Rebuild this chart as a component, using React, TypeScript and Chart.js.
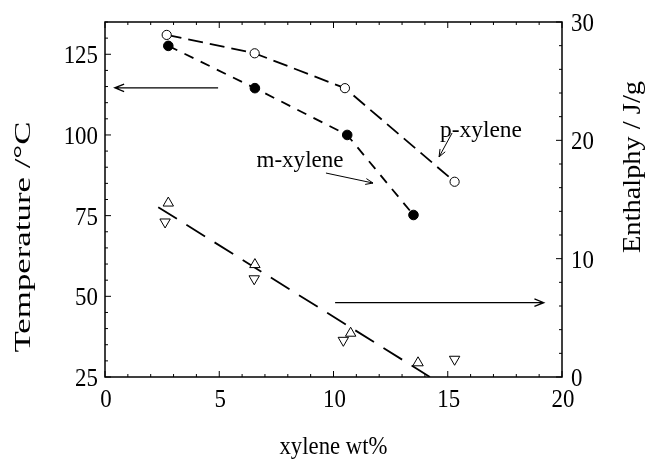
import React, { useEffect, useRef } from "react";
import { Chart, registerables } from "chart.js";
Chart.register(...registerables);

// ---- data ----
const pXyleneWt = [2.7, 6.55, 10.5, 15.3];
const pXyleneTemp = [131, 125.3, 114.5, 85.5];
const mXyleneWt = [2.77, 6.56, 10.6, 13.5];
const mXyleneTemp = [127.6, 114.5, 100, 75.2];
const enthalpyUpWt = [2.77, 6.56, 10.75, 13.7];
const enthalpyUp = [14.7, 9.5, 3.7, 1.2];
const enthalpyDownWt = [2.63, 6.53, 10.43, 15.3];
const enthalpyDown = [13.1, 8.3, 3.1, 1.5];
const fitWt = [2.33, 14.22];
const fitEnthalpy = [14.35, 0];

const xTicks = [0, 5, 10, 15, 20];
const tempTicks = [25, 50, 75, 100, 125];
const enthalpyTicks = [0, 10, 20, 30];

const xTitle = "xylene wt%";
const yTitle = "Temperature /°C";
const y2Title = "Enthalphy / J/g";

const FONT = '"Liberation Serif", "Times New Roman", serif';

function pts(xs: number[], ys: number[]) {
  return xs.map((x, i) => ({ x, y: ys[i] }));
}

function txt(
  ctx: CanvasRenderingContext2D,
  s: string,
  x: number,
  y: number,
  o: { size: number; align: CanvasTextAlign; baseline: CanvasTextBaseline; sx?: number; rot?: number; width?: number }
) {
  ctx.save();
  ctx.font = `${o.size}px ${FONT}`;
  ctx.translate(x, y);
  if (o.rot) ctx.rotate(o.rot);
  let sx = o.sx ?? 1;
  if (o.width) sx = o.width / ctx.measureText(s).width;
  ctx.scale(sx, 1);
  ctx.textAlign = o.align;
  ctx.textBaseline = o.baseline;
  ctx.fillStyle = "#000";
  ctx.fillText(s, 0, 0);
  ctx.restore();
}

function arrow(ctx: CanvasRenderingContext2D, x1: number, y1: number, x2: number, y2: number, head: number, lw: number) {
  ctx.save();
  ctx.strokeStyle = "#000";
  ctx.lineWidth = lw;
  ctx.beginPath();
  ctx.moveTo(x1, y1);
  ctx.lineTo(x2, y2);
  const a = Math.atan2(y2 - y1, x2 - x1);
  const th = 0.38;
  ctx.moveTo(x2 - head * Math.cos(a - th), y2 - head * Math.sin(a - th));
  ctx.lineTo(x2, y2);
  ctx.lineTo(x2 - head * Math.cos(a + th), y2 - head * Math.sin(a + th));
  ctx.stroke();
  ctx.restore();
}

const decor = {
  id: "decor",
  afterDraw(chart: any) {
    const ctx: CanvasRenderingContext2D = chart.ctx;
    const { left, right, top, bottom } = chart.chartArea;
    const xs = chart.scales.x;
    const ys = chart.scales.y;
    const y2s = chart.scales.y2;

    // frame
    ctx.save();
    ctx.strokeStyle = "#000";
    ctx.lineWidth = 1.5;
    ctx.strokeRect(left, top, right - left, bottom - top);

    // inward ticks
    ctx.lineWidth = 1;
    ctx.beginPath();
    for (let v = 0; v <= 20; v += 1) {
      const px = xs.getPixelForValue(v);
      const len = v % 5 === 0 ? 6 : 3;
      ctx.moveTo(px, bottom);
      ctx.lineTo(px, bottom - len);
      ctx.moveTo(px, top);
      ctx.lineTo(px, top + len);
    }
    for (let v = 25; v <= 135; v += 5) {
      const py = ys.getPixelForValue(v);
      const len = v % 25 === 0 ? 6 : 3;
      ctx.moveTo(left, py);
      ctx.lineTo(left + len, py);
    }
    for (let v = 0; v <= 30; v += 2) {
      const py = y2s.getPixelForValue(v);
      const len = v % 10 === 0 ? 6 : 3;
      ctx.moveTo(right, py);
      ctx.lineTo(right - len, py);
    }
    ctx.stroke();
    ctx.restore();

    // tick labels
    xTicks.forEach((v) =>
      txt(ctx, String(v), xs.getPixelForValue(v) + 1, bottom + 30, { size: 26, align: "center", baseline: "alphabetic", sx: 0.88 })
    );
    tempTicks.forEach((v) =>
      txt(ctx, String(v), left - 7, ys.getPixelForValue(v) + 9, { size: 26, align: "right", baseline: "alphabetic", sx: 0.88 })
    );
    enthalpyTicks.forEach((v) =>
      txt(ctx, String(v), right + 9, y2s.getPixelForValue(v) + 9, { size: 26, align: "left", baseline: "alphabetic", sx: 0.88 })
    );

    // axis titles
    txt(ctx, xTitle, (left + right) / 2, bottom + 77, { size: 26, align: "center", baseline: "alphabetic", width: 108 });
    txt(ctx, yTitle, 30, 237, { size: 24, align: "center", baseline: "alphabetic", rot: -Math.PI / 2, width: 231 });
    txt(ctx, y2Title, 640, 167, { size: 25, align: "center", baseline: "alphabetic", rot: -Math.PI / 2, width: 172 });

    // annotations
    txt(ctx, "m-xylene", xs.getPixelForValue(6.63), ys.getPixelForValue(90.1), { size: 24, align: "left", baseline: "alphabetic", width: 87 });
    txt(ctx, "p-xylene", xs.getPixelForValue(14.66), ys.getPixelForValue(99.4), { size: 24, align: "left", baseline: "alphabetic", width: 82 });

    arrow(ctx, xs.getPixelForValue(4.95), ys.getPixelForValue(114.6), xs.getPixelForValue(0.43), ys.getPixelForValue(114.6), 10, 1.3);
    arrow(ctx, xs.getPixelForValue(10.07), y2s.getPixelForValue(6.28), xs.getPixelForValue(19.2), y2s.getPixelForValue(6.28), 10, 1.3);
    arrow(ctx, xs.getPixelForValue(9.67), ys.getPixelForValue(88.2), xs.getPixelForValue(11.73), ys.getPixelForValue(85.1), 8, 1);
    arrow(ctx, xs.getPixelForValue(15.19), ys.getPixelForValue(100.6), xs.getPixelForValue(14.62), ys.getPixelForValue(93.2), 8, 1);
  },
};

export default function App() {
  const ref = useRef<HTMLCanvasElement>(null);
  useEffect(() => {
    if (!ref.current) return;
    const chart = new Chart(ref.current, {
      type: "scatter",
      data: {
        datasets: [
          {
            label: "p-xylene",
            data: pts(pXyleneWt, pXyleneTemp),
            yAxisID: "y",
            showLine: true,
            borderColor: "#000",
            borderWidth: 1.8,
            borderDash: [15, 7],
            pointRadius: 4.6,
            pointBackgroundColor: "#fff",
            pointBorderColor: "#000",
            pointBorderWidth: 1,
          },
          {
            label: "m-xylene",
            data: pts(mXyleneWt, mXyleneTemp),
            yAxisID: "y",
            showLine: true,
            borderColor: "#000",
            borderWidth: 1.8,
            borderDash: [10, 8],
            pointRadius: 4.8,
            pointBackgroundColor: "#000",
            pointBorderColor: "#000",
            pointBorderWidth: 1,
          },
          {
            label: "enthalpy up",
            data: pts(enthalpyUpWt, enthalpyUp),
            yAxisID: "y2",
            showLine: false,
            pointStyle: "triangle",
            pointRadius: 6,
            pointBackgroundColor: "#fff",
            pointBorderColor: "#000",
            pointBorderWidth: 1,
          },
          {
            label: "enthalpy down",
            data: pts(enthalpyDownWt, enthalpyDown),
            yAxisID: "y2",
            showLine: false,
            pointStyle: "triangle",
            rotation: 180,
            pointRadius: 6,
            pointBackgroundColor: "#fff",
            pointBorderColor: "#000",
            pointBorderWidth: 1,
          },
          {
            label: "fit",
            data: pts(fitWt, fitEnthalpy),
            yAxisID: "y2",
            showLine: true,
            borderColor: "#000",
            borderWidth: 1.8,
            borderDash: [22, 11.2],
            pointRadius: 0,
          },
        ],
      },
      options: {
        animation: false,
        responsive: true,
        maintainAspectRatio: false,
        layout: { padding: { left: 105, right: 87, top: 22, bottom: 84 } },
        plugins: { legend: { display: false }, tooltip: { enabled: false } },
        scales: {
          x: { type: "linear", min: 0, max: 20, display: false },
          y: { type: "linear", min: 25, max: 135, display: false, position: "left" },
          y2: { type: "linear", min: 0, max: 30, display: false, position: "right" },
        },
      },
      plugins: [decor],
    });
    return () => chart.destroy();
  }, []);
  return (
    <div style={{ position: "fixed", left: 0, top: 0, width: 649, height: 461, background: "#fff" }}>
      <canvas ref={ref} />
    </div>
  );
}
